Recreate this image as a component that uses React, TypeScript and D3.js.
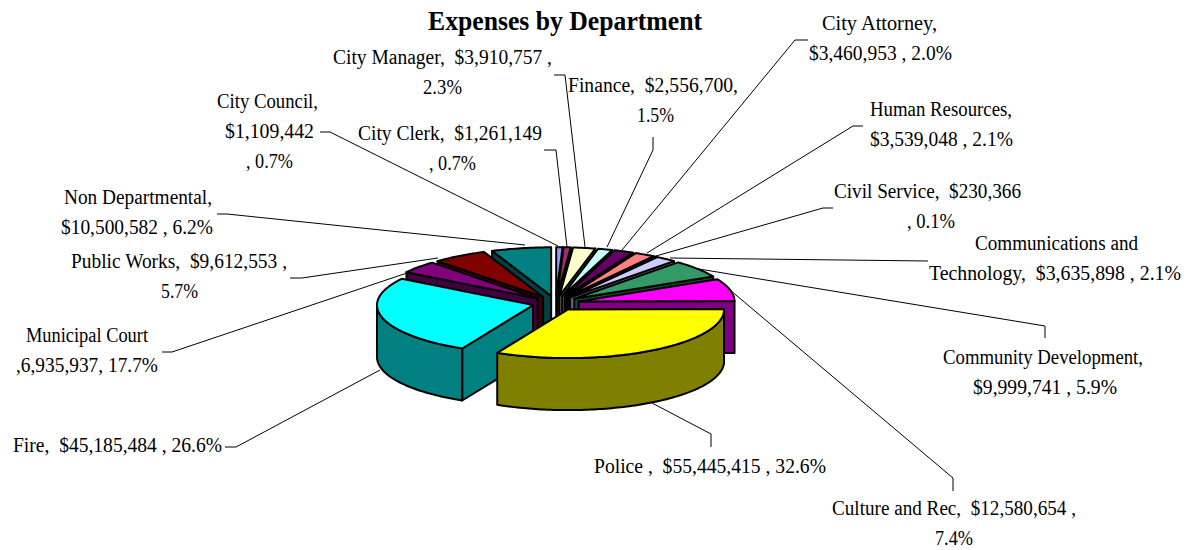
import React from "react";
import * as d3 from "d3";

const departments = ["City Council","City Clerk","City Manager","Finance","City Attorney","Human Resources","Civil Service","Communications and Technology","Community Development","Culture and Rec","Police","Fire","Municipal Court","Public Works","Non Departmental"];
const amounts = [1109442,1261149,3910757,2556700,3460953,3539048,230366,3635898,9999741,12580654,55445415,45185484,6935937,9612553,10500582];
const colors = ["#9999FF","#993366","#FFFFCC","#CCFFFF","#660066","#FF8080","#0066CC","#CCCCFF","#339966","#FF00FF","#FFFF00","#00FFFF","#800080","#800000","#008080"];
const title = "Expenses by Department";

// text line, left, right, baseline
const labelLines: [string, number, number, number][] = [
  ["City Manager,  $3,910,757 ,",333,552,64],["2.3%",423,462,94],
  ["Finance,  $2,556,700,",568,738,92],["1.5%",637,674,122],
  ["City Clerk,  $1,261,149",358,542,140],[", 0.7%",429,476,170],
  ["City Council,",217,318,108],["$1,109,442",225,314,138],[", 0.7%",246,293,168],
  ["Non Departmental,",64,212,204],["$10,500,582 , 6.2%",61,213,234],
  ["Public Works,  $9,612,553 ,",71,287,268],["5.7%",161,198,298],
  ["Municipal Court",26,148,342],[",6,935,937, 17.7%",16,158,372],
  ["Fire,  $45,185,484 , 26.6%",13,222,452],
  ["City Attorney,",822,937,30],["$3,460,953 , 2.0%",809,952,60],
  ["Human Resources,",870,1012,116],["$3,539,048 , 2.1%",870,1013,146],
  ["Civil Service,  $230,366",834,1021,198],[", 0.1%",907,955,228],
  ["Communications and",975,1138,250],["Technology,  $3,635,898 , 2.1%",929,1181,280],
  ["Community Development,",943,1143,364],["$9,999,741 , 5.9%",973,1117,394],
  ["Police ,  $55,445,415 , 32.6%",594,826,473],
  ["Culture and Rec,  $12,580,654 ,",832,1076,515],["7.4%",935,973,545],
];
const leaders: [number, number][][] = [
  [[320,132],[330,132],[558,246]],
  [[544,150],[556,150],[567,247]],
  [[554,75],[565,75],[585,247]],
  [[653,137],[653,150],[607,247]],
  [[808,40],[795,40],[622,250]],
  [[863,126],[853,126],[647,253]],
  [[833,208],[823,208],[656,256]],
  [[928,261],[670,258]],
  [[1045,338],[1045,326],[693,268]],
  [[953,491],[953,478],[730,290]],
  [[711,447],[711,434],[652,403]],
  [[225,447],[236,447],[380,370]],
  [[162,352],[172,352],[410,272]],
  [[290,278],[302,278],[438,258]],
  [[217,214],[227,214],[525,245]],
];

const cx = 555.7, cy = 303.2, R = 156, K = 0.312, depth = 52, explode = 23.5;
const font = "'Liberation Serif', 'Times New Roman', serif";

const half = (c: string) => {
  const r = d3.rgb(c);
  return d3.rgb(r.r / 2, r.g / 2, r.b / 2).formatHex();
};

export default function App() {
  const pie = d3.pie<number>().sort(null).startAngle(0).endAngle(2 * Math.PI);
  const arcs = pie(amounts);
  const line = d3.line<[number, number]>();
  const wall = d3.area<number[]>().x(d => d[0]).y0(d => d[1]).y1(d => d[1] + depth);

  const slices = arcs.map((a, i) => {
    const mid = (a.startAngle + a.endAngle) / 2;
    const ax = cx + explode * Math.sin(mid);
    const ay = cy - explode * Math.cos(mid) * K;
    const pt = (t: number): [number, number] => [ax + R * Math.sin(t), ay - R * K * Math.cos(t)];
    const n = Math.max(2, Math.ceil((a.endAngle - a.startAngle) / 0.02));
    const samples = d3.range(n + 1).map(j => a.startAngle + (a.endAngle - a.startAngle) * j / n);
    const top = line([[ax, ay], ...samples.map(pt)]) + "Z";
    const faces: string[] = [];
    const quad = (t: number) => {
      const p = pt(t);
      return line([[ax, ay], p, [p[0], p[1] + depth], [ax, ay + depth]]) + "Z";
    };
    if (Math.sin(a.startAngle) < 0) faces.push(quad(a.startAngle));
    if (Math.sin(a.endAngle) > 0) faces.push(quad(a.endAngle));
    const front = samples.filter(t => Math.cos(t) <= 0);
    const outer = front.length > 1 ? wall(front.map(pt)) + "Z" : null;
    return { i, ay, top, faces, outer };
  }).sort((p, q) => p.ay - q.ay);

  return (
    <svg width={1194} height={550} style={{ position: "absolute", left: 0, top: 0, background: "#fff" }} fontFamily={font}>
      <text x={428} y={30} fontSize={27} fontWeight="bold" textLength={274} lengthAdjust="spacingAndGlyphs">{title}</text>
      {leaders.map((l, i) => (
        <path key={i} d={line(l) as string} fill="none" stroke="#000" strokeWidth={1} />
      ))}
      {slices.map(s => (
        <g key={s.i} stroke="#000" strokeWidth={2} strokeLinejoin="round">
          {s.faces.map((f, j) => <path key={j} d={f} fill={half(colors[s.i])} />)}
          {s.outer && <path d={s.outer} fill={half(colors[s.i])} />}
          <path d={s.top} fill={colors[s.i]} />
          <title>{departments[s.i]}</title>
        </g>
      ))}
      {labelLines.map(([t, l, r, y], i) => (
        <text key={i} x={l} y={y} fontSize={20} fill="#000" textLength={r - l} lengthAdjust="spacingAndGlyphs" xmlSpace="preserve" style={{ whiteSpace: "pre" }}>{t}</text>
      ))}
    </svg>
  );
}
